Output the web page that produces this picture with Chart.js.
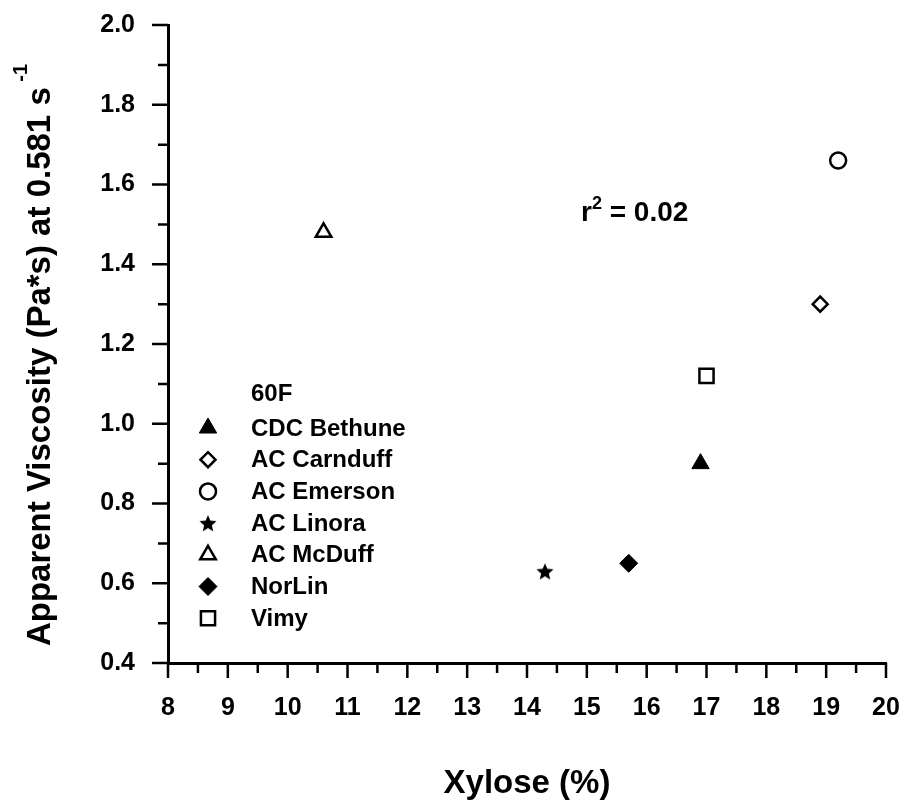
<!DOCTYPE html>
<html>
<head>
<meta charset="utf-8">
<title>Xylose vs apparent viscosity</title>
<script src="https://cdn.jsdelivr.net/npm/chart.js@4.4.1/dist/chart.umd.min.js"></script>
<style>
  html, body { margin: 0; padding: 0; background: #fff; }
</style>
</head>
<body>
<canvas id="xyloseChart" width="904" height="804"></canvas>
<script>
// 60F flax varieties: xylose content vs apparent viscosity
const varieties = ['CDC Bethune', 'AC Carnduff', 'AC Emerson', 'AC Linora', 'AC McDuff', 'NorLin', 'Vimy'];
const xylose = [16.9, 18.9, 19.2, 14.3, 10.6, 15.7, 17.0];
const viscosity = [0.90, 1.30, 1.66, 0.63, 1.48, 0.65, 1.12];

const xTicks = [8, 9, 10, 11, 12, 13, 14, 15, 16, 17, 18, 19, 20];
const yTicks = [0.4, 0.6, 0.8, 1.0, 1.2, 1.4, 1.6, 1.8, 2.0];

const legendTitle = '60F';
const rSquared = '0.02';

const FONT = "'Liberation Sans', Arial, Helvetica, sans-serif";

// filled five-point star, used as an image point style
function makeStar(size) {
    const c = document.createElement('canvas');
    c.width = size;
    c.height = size;
    const g = c.getContext('2d');
    const R = size / 2, r = R * 0.45;
    const cx = size / 2, cy = size / 2 + R * 0.1;
    g.beginPath();
    for (let i = 0; i < 10; i++) {
        const a = -Math.PI / 2 + i * Math.PI / 5;
        const rad = i % 2 ? r : R;
        g.lineTo(cx + rad * Math.cos(a), cy + rad * Math.sin(a));
    }
    g.closePath();
    g.fillStyle = '#000';
    g.fill();
    return c;
}

const star = makeStar(18);

// marker per variety, same order as varieties
const markers = [
    { pointStyle: 'triangle', radius: 10, fill: '#000', border: 1 },
    { pointStyle: 'rectRot', radius: 7.5, fill: '#fff', border: 2.5 },
    { pointStyle: 'circle', radius: 8, fill: '#fff', border: 2.5 },
    { pointStyle: star, radius: 9, fill: '#000', border: 0 },
    { pointStyle: 'triangle', radius: 9, fill: '#fff', border: 2.5 },
    { pointStyle: 'rectRot', radius: 9, fill: '#000', border: 1 },
    { pointStyle: 'rect', radius: 10, fill: '#fff', border: 2.5 }
];

const datasets = varieties.map((name, i) => ({
    label: name,
    data: [{ x: xylose[i], y: viscosity[i] }],
    pointStyle: markers[i].pointStyle,
    pointRadius: markers[i].radius,
    pointBackgroundColor: markers[i].fill,
    pointBorderColor: '#000',
    pointBorderWidth: markers[i].border,
    showLine: false
}));

function drawSup(ctx, parts, x, y) {
    // parts: [text, size, raise]
    parts.forEach(([text, size, raise]) => {
        ctx.font = 'bold ' + size + 'px ' + FONT;
        ctx.fillText(text, x, y - raise);
        x += ctx.measureText(text).width;
    });
}

function supWidth(ctx, parts) {
    let w = 0;
    parts.forEach(([text, size]) => {
        ctx.font = 'bold ' + size + 'px ' + FONT;
        w += ctx.measureText(text).width;
    });
    return w;
}

const decorations = {
    id: 'decorations',
    afterDraw(chart) {
        const { ctx, scales: { x, y } } = chart;
        ctx.save();

        // major and minor tick marks, pointing outward
        ctx.strokeStyle = '#000';
        ctx.lineWidth = 2.5;
        ctx.beginPath();
        xTicks.forEach((v, i) => {
            const px = x.getPixelForValue(v);
            ctx.moveTo(px, x.top);
            ctx.lineTo(px, x.top + 15);
            if (i < xTicks.length - 1) {
                const pm = x.getPixelForValue((v + xTicks[i + 1]) / 2);
                ctx.moveTo(pm, x.top);
                ctx.lineTo(pm, x.top + 10);
            }
        });
        yTicks.forEach((v, i) => {
            const py = y.getPixelForValue(v);
            ctx.moveTo(y.right, py);
            ctx.lineTo(y.right - 16, py);
            if (i < yTicks.length - 1) {
                const pm = y.getPixelForValue((v + yTicks[i + 1]) / 2);
                ctx.moveTo(y.right, pm);
                ctx.lineTo(y.right - 10, pm);
            }
        });
        ctx.stroke();

        ctx.fillStyle = '#000';
        ctx.textBaseline = 'alphabetic';

        // x axis title
        ctx.font = 'bold 33px ' + FONT;
        ctx.textAlign = 'center';
        ctx.fillText('Xylose (%)', (x.left + x.right) / 2, 793);

        // y axis title with s^-1 superscript
        ctx.textAlign = 'left';
        const yParts = [['Apparent Viscosity (Pa*s) at 0.581 s', 33, 0], [' -1', 20, 23]];
        const yw = supWidth(ctx, yParts);
        ctx.save();
        ctx.translate(50, 355);
        ctx.rotate(-Math.PI / 2);
        drawSup(ctx, yParts, -yw / 2, 0);
        ctx.restore();

        // r squared note
        drawSup(ctx, [['r', 28, 0], ['2', 18, 12], [' = ' + rSquared, 28, 0]], 581, 221);

        // legend block
        ctx.font = 'bold 24px ' + FONT;
        ctx.textBaseline = 'middle';
        ctx.fillText(legendTitle, 251, 394);
        chart.data.datasets.forEach((ds, i) => {
            const rowY = 428 + i * 31.7;
            const m = markers[i];
            ctx.fillStyle = m.fill;
            ctx.strokeStyle = '#000';
            ctx.lineWidth = m.border;
            Chart.helpers.drawPoint(ctx, {
                pointStyle: m.pointStyle,
                radius: m.radius,
                rotation: 0,
                borderWidth: m.border
            }, 208, rowY);
            ctx.fillStyle = '#000';
            ctx.font = 'bold 24px ' + FONT;
            ctx.fillText(ds.label, 251, rowY + 1);
        });

        ctx.restore();
    }
};

new Chart(document.getElementById('xyloseChart'), {
    type: 'scatter',
    data: { datasets },
    options: {
        responsive: false,
        animation: false,
        layout: { padding: { left: 0, top: 25, right: 18, bottom: 0 } },
        plugins: {
            legend: { display: false },
            tooltip: { enabled: false }
        },
        scales: {
            x: {
                type: 'linear',
                min: 8,
                max: 20,
                afterBuildTicks: scale => { scale.ticks = xTicks.map(v => ({ value: v })); },
                afterFit: scale => {
                    scale.height = 141;
                    scale.paddingLeft = 0;
                    scale.paddingRight = 0;
                },
                grid: { drawOnChartArea: false, drawTicks: false },
                border: { display: true, color: '#000', width: 3 },
                ticks: {
                    color: '#000',
                    padding: 30,
                    font: { family: FONT, size: 25, weight: 'bold' },
                    callback: v => String(v)
                }
            },
            y: {
                type: 'linear',
                min: 0.4,
                max: 2.0,
                afterBuildTicks: scale => { scale.ticks = yTicks.map(v => ({ value: v })); },
                afterFit: scale => {
                    scale.width = 168;
                    scale.paddingTop = 0;
                    scale.paddingBottom = 0;
                },
                grid: { drawOnChartArea: false, drawTicks: false },
                border: { display: true, color: '#000', width: 3 },
                ticks: {
                    color: '#000',
                    padding: 33,
                    font: { family: FONT, size: 25, weight: 'bold' },
                    callback: v => Number(v).toFixed(1)
                }
            }
        }
    },
    plugins: [decorations]
});
</script>
</body>
</html>
